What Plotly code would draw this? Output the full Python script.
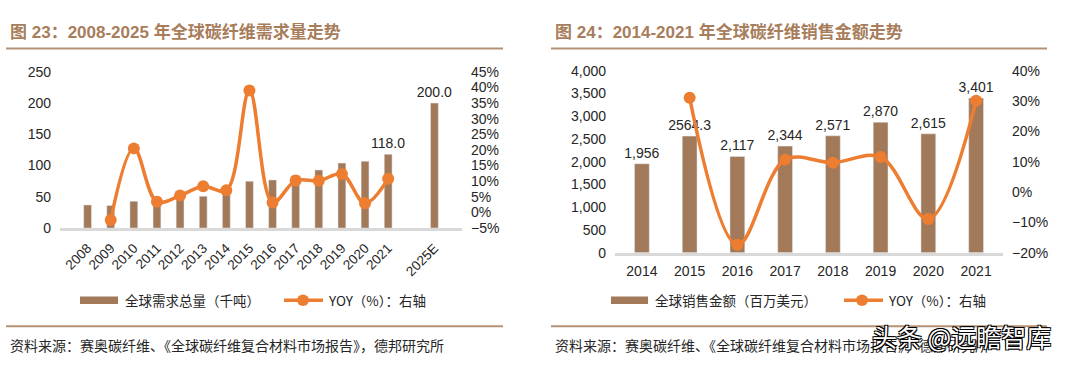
import plotly.graph_objects as go

# ---------------- data ----------------
years_left = ["2008", "2009", "2010", "2011", "2012", "2013", "2014", "2015",
              "2016", "2017", "2018", "2019", "2020", "2021", " ", "2025E"]
demand = [37, 36, 43, 44.5, 47, 51, 54.6, 75, 77, 84, 93, 104, 107, 118, None, 200]
demand_labels = ["", "", "", "", "", "", "", "", "", "", "", "", "", "118.0", "", "200.0"]
demand_yoy = [None, -2.4, 20.5, 3.4, 5.4, 8.4, 7.1, 39.0, 3.2, 10.2, 10.1, 12.3, 2.9, 10.8, None, None]

years_right = ["2014", "2015", "2016", "2017", "2018", "2019", "2020", "2021"]
sales = [1956, 2564.3, 2117, 2344, 2571, 2870, 2615, 3401]
sales_labels = ["1,956", "2564.3", "2,117", "2,344", "2,571", "2,870", "2,615", "3,401"]
sales_yoy = [None, 31.1, -17.4, 10.7, 9.7, 11.6, -8.9, 30.1]

title_left = "图 23：2008-2025 年全球碳纤维需求量走势"
title_right = "图 24：2014-2021 年全球碳纤维销售金额走势"
legend_bar_left = "全球需求总量（千吨）"
legend_bar_right = "全球销售金额（百万美元）"
legend_line = "YOY（%）：右轴"
source_text = "资料来源：赛奥碳纤维、《全球碳纤维复合材料市场报告》，德邦研究所"
watermark = "头条 @远瞻智库"

# ---------------- style ----------------
W, H = 1080, 370
BROWN = "#A27A5A"
ORANGE = "#ED7D31"
TITLE_C = "#A87D5B"
RULE_C = "#B59273"
TXT = "#262626"
AX_LINE = "#D9D9D9"
FONT = "Arial, Liberation Sans, Noto Sans CJK SC"
CJK = "Noto Sans CJK SC, Arial"

def px(x):
    return x / W

def py(y):
    return 1 - y / H

fig = go.Figure()

# left chart
fig.add_trace(go.Bar(x=years_left, y=demand, text=demand_labels, textposition="outside",
                     constraintext="none",
                     textfont=dict(size=14, color=TXT, family=FONT), cliponaxis=False,
                     marker_color=BROWN, width=0.34, xaxis="x", yaxis="y", showlegend=False))
fig.add_trace(go.Scatter(x=years_left, y=demand_yoy, mode="lines+markers",
                         line=dict(color=ORANGE, width=3.5, shape="spline", smoothing=1),
                         marker=dict(size=12, color=ORANGE), connectgaps=False,
                         xaxis="x", yaxis="y2", showlegend=False, cliponaxis=False))

# right chart
fig.add_trace(go.Bar(x=years_right, y=sales, text=sales_labels, textposition="outside",
                     constraintext="none",
                     textfont=dict(size=14, color=TXT, family=FONT), cliponaxis=False,
                     marker_color=BROWN, width=0.31, xaxis="x2", yaxis="y3", showlegend=False))
fig.add_trace(go.Scatter(x=years_right, y=sales_yoy, mode="lines+markers",
                         line=dict(color=ORANGE, width=3.5, shape="spline", smoothing=1),
                         marker=dict(size=12, color=ORANGE),
                         xaxis="x2", yaxis="y4", showlegend=False, cliponaxis=False))

tickfont = dict(size=14, color=TXT, family=FONT)

fig.update_layout(
    width=W, height=H, margin=dict(l=0, r=0, t=0, b=0),
    paper_bgcolor="white", plot_bgcolor="white",
    bargap=0.5,
    xaxis=dict(domain=[px(60), px(462)], type="category", categoryorder="array",
               categoryarray=years_left, tickangle=-45, tickfont=dict(size=13.5, color=TXT, family=FONT),
               showline=True, linecolor=AX_LINE, linewidth=3, ticks="", showgrid=False,
               anchor="y", fixedrange=True, ticklabelstandoff=4),
    yaxis=dict(domain=[py(230), py(66.7)], range=[0, 250], tick0=0, dtick=50,
               tickfont=tickfont, showgrid=False, zeroline=False, showline=False, ticks="",
               ticklabelstandoff=8, anchor="x"),
    yaxis2=dict(domain=[py(230), py(66.7)], range=[-5, 45], overlaying="y", side="right",
                tick0=-5, dtick=5, ticksuffix="%", tickfont=tickfont,
                showgrid=False, zeroline=False, showline=False, ticks="", ticklabelstandoff=8,
                anchor="x"),
    xaxis2=dict(domain=[px(615), px(1003)], type="category", tickfont=tickfont,
                showline=True, linecolor=AX_LINE, linewidth=3, ticks="", showgrid=False,
                anchor="y3", ticklabelstandoff=4),
    yaxis3=dict(domain=[py(255.7), py(65.7)], range=[0, 4000], dtick=500, tickformat=",",
                tickfont=tickfont, showgrid=False, zeroline=False, showline=False, ticks="",
                ticklabelstandoff=8, anchor="x2"),
    yaxis4=dict(domain=[py(255.7), py(65.7)], range=[-20, 40], dtick=10, ticksuffix="%",
                overlaying="y3", side="right", tickfont=tickfont, showgrid=False,
                zeroline=False, showline=False, ticks="", ticklabelstandoff=8, anchor="x2"),
)

shapes = []
annotations = []

# titles, rules, sources
for x0, x1, title in [(6, 503, title_left), (551, 1047, title_right)]:
    annotations.append(dict(text="<b>" + title + "</b>", x=px(x0 + 2), y=py(25), xref="paper",
                            yref="paper", xanchor="left", yanchor="middle", showarrow=False,
                            font=dict(size=17, color=TITLE_C, family=FONT)))
    shapes.append(dict(type="line", xref="paper", yref="paper", x0=px(x0), x1=px(x1),
                       y0=py(42.3), y1=py(42.3), line=dict(color=RULE_C, width=2)))
    shapes.append(dict(type="line", xref="paper", yref="paper", x0=px(x0), x1=px(x1),
                       y0=py(332.7), y1=py(332.7), line=dict(color=RULE_C, width=2)))
    annotations.append(dict(text=source_text, x=px(x0 + 2), y=py(352), xref="paper",
                            yref="paper", xanchor="left", yanchor="middle", showarrow=False,
                            font=dict(size=14, color=TXT, family=CJK)))

# manual legends
LY = 305.5
for sx0, sx1, stext, lx0, lx1, mx, ltext in [
        (80, 118, legend_bar_left, 284, 323, 303, legend_line),
        (611, 648, legend_bar_right, 844, 883, 862, legend_line)]:
    shapes.append(dict(type="rect", xref="paper", yref="paper", x0=px(sx0), x1=px(sx1),
                       y0=py(LY + 4), y1=py(LY - 4), fillcolor=BROWN, line=dict(width=0)))
    annotations.append(dict(text=stext, x=px(sx1 + 5), y=py(LY), xref="paper", yref="paper",
                            xanchor="left", yanchor="middle", showarrow=False,
                            font=dict(size=13.5, color=TXT, family=CJK)))
    shapes.append(dict(type="line", xref="paper", yref="paper", x0=px(lx0), x1=px(lx1),
                       y0=py(LY), y1=py(LY), line=dict(color=ORANGE, width=3.5)))
    shapes.append(dict(type="circle", xref="paper", yref="paper", x0=px(mx - 6), x1=px(mx + 6),
                       y0=py(LY + 6), y1=py(LY - 6), fillcolor=ORANGE, line=dict(width=0)))
    annotations.append(dict(text=ltext, x=px(lx1 + 3), y=py(LY), xref="paper", yref="paper",
                            xanchor="left", yanchor="middle", showarrow=False,
                            font=dict(size=13.5, color=TXT, family=CJK)))

# watermark (overlays the right source line, as in the reference)
annotations.append(dict(text=watermark, x=px(1053), y=py(343), xref="paper", yref="paper",
                        xanchor="right", yanchor="middle", showarrow=False,
                        font=dict(size=25, color="white", family=CJK,
                                  shadow="-1px -1px 0 #000, 1px -1px 0 #000, -1px 1px 0 #000, 1px 1px 0 #000")))

fig.update_layout(shapes=shapes, annotations=annotations)

fig.write_html("out.html", config={"displayModeBar": False},
               post_script="document.body.style.margin='0';document.body.style.overflow='hidden';")
